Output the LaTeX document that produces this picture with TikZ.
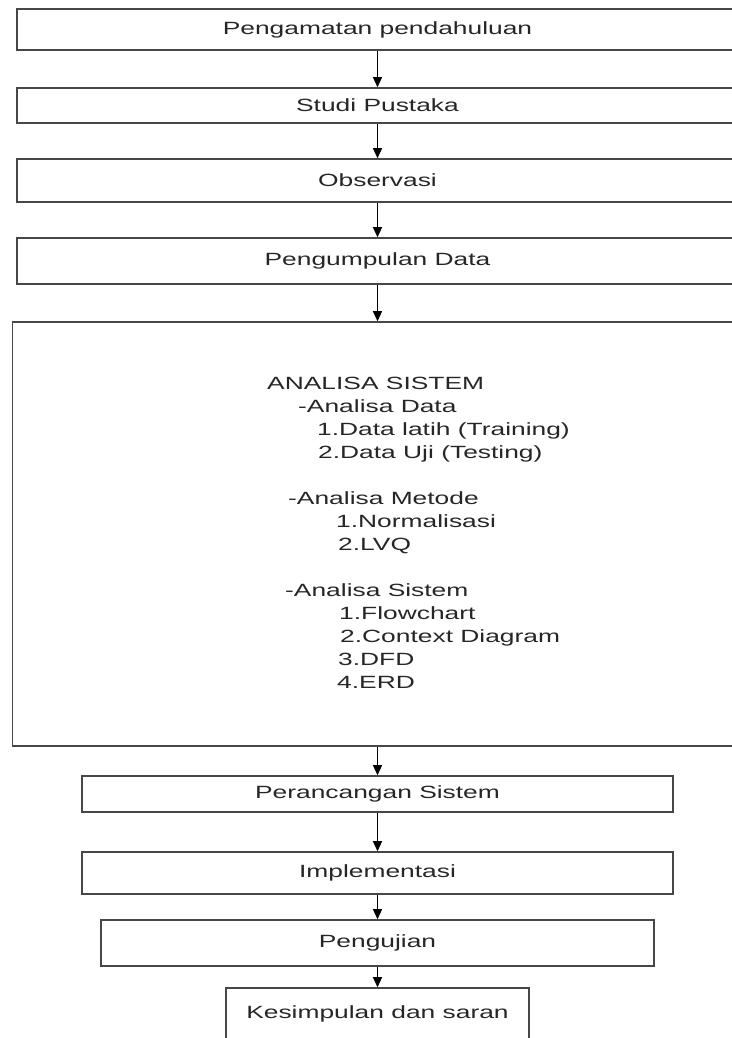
\documentclass[tikz,border=0pt]{standalone}
\usepackage{fontspec}
\setmainfont{Liberation Sans}[FakeStretch=1.49]
\usetikzlibrary{arrows.meta}
\tikzset{
  box/.style={draw=black!72, line width=1.6pt, rectangle, inner sep=0pt, text=black!85, font=\fontsize{17.7}{22}\selectfont},
  arr/.style={draw=black, line width=1.3pt, -{Triangle[width=9pt,length=10pt]}},
  txt/.style={anchor=base west, inner sep=0pt, text=black!85, font=\fontsize{17.7}{22}\selectfont}
}
\begin{document}
\begin{tikzpicture}[x=1pt,y=-1pt]
\useasboundingbox (0,0) rectangle (731,1038);
\node[box, minimum width=721pt, minimum height=41pt] (b1) at (377.5,29.5) {Pengamatan pendahuluan};
\node[box, minimum width=721pt, minimum height=35pt] (b2) at (377.5,105.5) {Studi Pustaka};
\node[box, minimum width=721pt, minimum height=43pt] (b3) at (377.5,180.5) {Observasi};
\node[box, minimum width=721pt, minimum height=46pt] (b4) at (377.5,261) {Pengumpulan Data};
\node[box, minimum width=730pt, minimum height=424pt] (b5) at (377.5,534) {};
\node[box, minimum width=591pt, minimum height=36pt] (b6) at (377.5,794) {Perancangan Sistem};
\node[box, minimum width=591pt, minimum height=42pt] (b7) at (377.5,873) {Implementasi};
\node[box, minimum width=553pt, minimum height=46pt] (b8) at (377.5,943) {Pengujian};
\node[box, minimum width=303pt, minimum height=52pt] (b9) at (377.5,1014) {Kesimpulan dan saran};

\node[txt] (t1) at (267,389) {ANALISA SISTEM};
\node[txt] (t2) at (298,412) {-Analisa Data};
\node[txt] (t3) at (317,435) {1.Data latih (Training)};
\node[txt] (t4) at (318,458) {2.Data Uji (Testing)};
\node[txt] (t5) at (288,504) {-Analisa Metode};
\node[txt] (t6) at (336,527) {1.Normalisasi};
\node[txt] (t7) at (338,550) {2.LVQ};
\node[txt] (t8) at (285,596) {-Analisa Sistem};
\node[txt] (t9) at (339,619) {1.Flowchart};
\node[txt] (t10) at (340,642) {2.Context Diagram};
\node[txt] (t11) at (338,665) {3.DFD};
\node[txt] (t12) at (337,688) {4.ERD};

\draw[arr] (b1) -- (b2);
\draw[arr] (b2) -- (b3);
\draw[arr] (b3) -- (b4);
\draw[arr] (b4) -- (b5);
\draw[arr] (b5) -- (b6);
\draw[arr] (b6) -- (b7);
\draw[arr] (b7) -- (b8);
\draw[arr] (b8) -- (b9);
\end{tikzpicture}
\end{document}
